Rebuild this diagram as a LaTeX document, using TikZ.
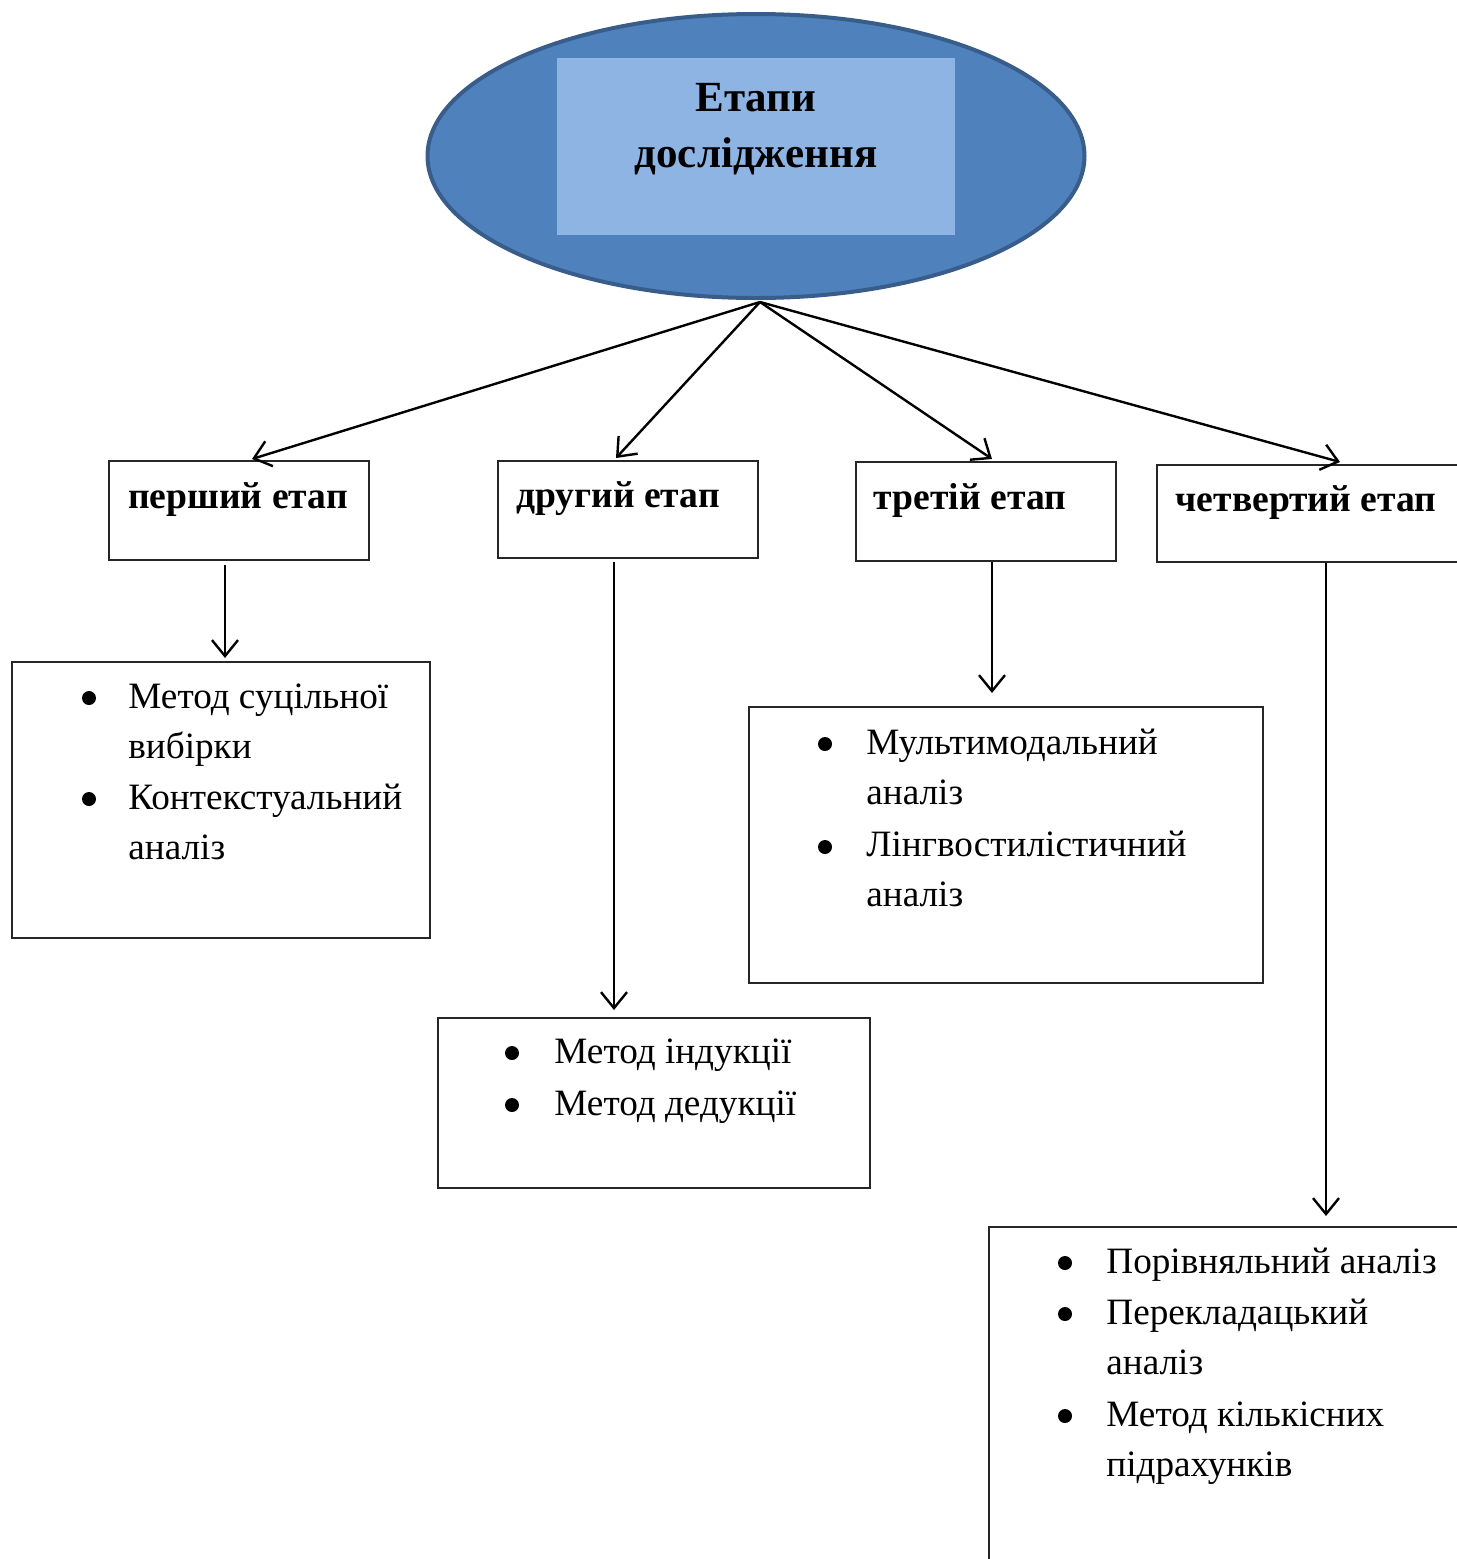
\documentclass[tikz,border=0pt]{standalone}
\usepackage{fontspec}
\setmainfont{Liberation Serif}
\usetikzlibrary{arrows.meta,calc,shapes.geometric}
\definecolor{ellfill}{HTML}{4F81BD}
\definecolor{elldraw}{HTML}{385D8A}
\definecolor{rectfill}{HTML}{8EB4E3}
\begin{document}
\begin{tikzpicture}[x=0.5pt,y=-0.5pt,
  box/.style={draw=black!85,line width=0.8pt,inner sep=0,anchor=north west,fill=white},
  arr/.style={line width=1.2pt,-{Straight Barb[length=8pt,width=13pt,line width=1.2pt]}},
  head/.style={font=\fontsize{18.8}{23}\selectfont\bfseries,anchor=base,inner sep=0},
  listtext/.style={font=\fontsize{18.6}{25}\selectfont,anchor=base west,inner sep=0},
  bul/.style={circle,fill=black,inner sep=0,minimum size=7pt}
]
\clip (0,0) rectangle (1457,1559);
\fill[white] (0,0) rectangle (1457,1559);

% central ellipse
\node[ellipse,fill=ellfill,draw=elldraw,line width=2pt,inner sep=0,
      minimum width=328.5pt,minimum height=142pt] (ell) at (756,156) {};
\node[fill=rectfill,inner sep=0,minimum width=199pt,minimum height=88.5pt] (inner) at (756,146.5) {};
\node[font=\fontsize{21.5}{28}\selectfont\bfseries,anchor=base,inner sep=0] (title) at (756,111)
  {\begin{tabular}[t]{@{}c@{}}Етапи\\дослідження\end{tabular}};

% stage boxes
\node[box,minimum width=130pt,minimum height=49.5pt] (s1) at (108,460) {};
\node[box,minimum width=130pt,minimum height=48.5pt] (s2) at (497,460) {};
\node[box,minimum width=130pt,minimum height=49.5pt] (s3) at (855,461) {};
\node[box,minimum width=172pt,minimum height=48.5pt] (s4) at (1156,464) {};
\node[head] (h1) at (238,508) {перший етап};
\node[head] (h2) at (618,507) {другий етап};
\node[head] (h3) at (970,509) {третій етап};
\node[head] (h4) at (1306,511) {четвертий етап};

% method boxes
\node[box,minimum width=209pt,minimum height=138pt] (m1) at (11,661) {};
\node[box,minimum width=216pt,minimum height=85pt] (m2) at (437,1017) {};
\node[box,minimum width=257pt,minimum height=138pt] (m3) at (748,706) {};
\node[box,minimum width=256pt,minimum height=197pt] (m4) at (988,1226) {};

% lists
\node[listtext] (l1) at (128,708) {\begin{tabular}[t]{@{}l@{}}Метод суцільної\\вибірки\\[0.5pt]Контекстуальний\\аналіз\end{tabular}};
\node[bul] (b11) at (89,698) {};
\node[bul] (b12) at (89,799) {};

\node[listtext] (l2) at (554,1063) {\begin{tabular}[t]{@{}l@{}}Метод індукції\\[1pt]Метод дедукції\end{tabular}};
\node[bul] (b21) at (512,1053) {};
\node[bul] (b22) at (512,1105) {};

\node[listtext] (l3) at (866,754) {\begin{tabular}[t]{@{}l@{}}Мультимодальний\\аналіз\\[1pt]Лінгвостилістичний\\аналіз\end{tabular}};
\node[bul] (b31) at (825,744) {};
\node[bul] (b32) at (825,847) {};

\node[listtext] (l4) at (1106,1273) {\begin{tabular}[t]{@{}l@{}}Порівняльний аналіз\\[0.5pt]Перекладацький\\аналіз\\[1pt]Метод кількісних\\підрахунків\end{tabular}};
\node[bul] (b41) at (1065,1263) {};
\node[bul] (b42) at (1065,1314) {};
\node[bul] (b43) at (1065,1416) {};

% connectors from the ellipse
\coordinate (top) at ($(ell.south)+(4,2)$);
\draw[arr] (top) -- ($(s1.north west)+(144,-1)$);
\draw[arr] (top) -- ($(s2.north west)+(119,-2)$);
\draw[arr] (top) -- ($(s3.north west)+(137,-2)$);
\draw[arr] (top) -- ($(s4.north west)+(184,-2)$);

% vertical connectors
\draw[arr] ($(s1.south west)+(117,4)$) -- ($(m1.north west)+(214,-3)$);
\draw[arr] ($(s2.south west)+(117,3)$) -- ($(m2.north west)+(177,-7)$);
\draw[arr] ($(s3.south west)+(137,0)$) -- ($(m3.north west)+(244,-13)$);
\draw[arr] ($(s4.south west)+(170,0)$) -- ($(m4.north west)+(338,-10)$);
\end{tikzpicture}
\end{document}
